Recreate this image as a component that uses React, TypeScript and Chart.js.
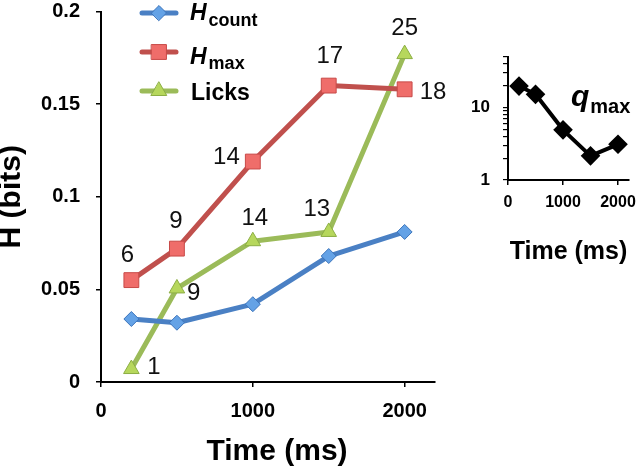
import React, { useEffect, useRef } from 'react';
import { Chart, registerables } from 'chart.js';
import { drawPoint } from 'chart.js/helpers';

Chart.register(...registerables);

const FONT = "'Liberation Sans', Arial, Helvetica, sans-serif";

// ---- data ----
const times = [200, 500, 1000, 1500, 2000];
const hCount = [0.034, 0.032, 0.042, 0.068, 0.081];
const hMax = [0.055, 0.072, 0.119, 0.16, 0.158];
const licks = [0.007, 0.0505, 0.076, 0.081, 0.177];
const hMaxCounts = ['6', '9', '14', '17', '18'];
const licksCounts = ['1', '9', '14', '13', '25'];
const qMax = [19.6, 15.1, 4.9, 2.15, 3.1];

const mainYTicks = [0, 0.05, 0.1, 0.15, 0.2];
const mainYTickLabels = ['0', '0.05', '0.1', '0.15', '0.2'];
const mainXTicks = [0, 1000, 2000];
const mainXTickLabels = ['0', '1000', '2000'];
const insetXTicks = [0, 1000, 2000];
const insetXTickLabels = ['0', '1000', '2000'];
const insetYTicks = [1, 2, 3, 4, 5, 6, 7, 8, 9, 10, 20, 30, 40, 50];
const insetYTickLabels = ['1', '', '', '', '', '', '', '', '', '10', '', '', '', ''];

// ---- styles ----
const hMaxLabelPos: [number, number, CanvasTextAlign][] = [
  [-4, -25, 'center'], [-1, -27, 'center'], [-13, -4, 'right'], [1, -29, 'center'], [15, 3, 'left'],
];
const licksLabelPos: [number, number, CanvasTextAlign][] = [
  [16, -2, 'left'], [10, 5, 'left'], [2, -23, 'center'], [-12, -23, 'center'], [0, -26, 'center'],
];

const labelFor = (ticks: number[], labels: string[], v: number) => {
  const i = ticks.findIndex((t) => Math.abs(t - v) < 1e-9);
  return i < 0 ? '' : labels[i];
};

const setTicks = (values: number[]) => (s: any) => {
  s.ticks = values.map((v) => ({ value: v, major: false }));
};

const noPad = (w: number | null, h: number | null) => (s: any) => {
  if (w !== null) s.width = w;
  if (h !== null) s.height = h;
  s.paddingTop = 0;
  s.paddingBottom = 0;
  s.paddingLeft = 0;
  s.paddingRight = 0;
};

const dataLabelPlugin = {
  id: 'dataLabels',
  afterDatasetsDraw(chart: any) {
    const ctx = chart.ctx;
    const sets: [number, string[], [number, number, CanvasTextAlign][]][] = [
      [1, hMaxCounts, hMaxLabelPos],
      [2, licksCounts, licksLabelPos],
    ];
    ctx.save();
    ctx.fillStyle = '#111';
    ctx.font = `24px ${FONT}`;
    ctx.textBaseline = 'middle';
    sets.forEach(([di, labels, pos]) => {
      const meta = chart.getDatasetMeta(di);
      meta.data.forEach((el: any, i: number) => {
        const [dx, dy, align] = pos[i];
        ctx.textAlign = align;
        ctx.fillText(labels[i], el.x + dx, el.y + dy);
      });
    });
    ctx.restore();
  },
};

const legendPlugin = {
  id: 'customLegend',
  afterDraw(chart: any) {
    const ctx = chart.ctx;
    const rows = [13, 52, 91];
    chart.data.datasets.forEach((ds: any, i: number) => {
      const y = rows[i];
      ctx.save();
      ctx.strokeStyle = ds.borderColor;
      ctx.lineWidth = 5;
      ctx.lineCap = 'round';
      ctx.beginPath();
      ctx.moveTo(142, y);
      ctx.lineTo(176, y);
      ctx.stroke();
      ctx.fillStyle = ds.pointBackgroundColor;
      ctx.strokeStyle = ds.pointBorderColor;
      ctx.lineWidth = 1;
      drawPoint(ctx, { pointStyle: ds.pointStyle, radius: ds.pointRadius, rotation: 0, borderWidth: 1 } as any, 159, y);
      ctx.restore();
    });
    ctx.save();
    ctx.fillStyle = '#000';
    ctx.textAlign = 'left';
    ctx.textBaseline = 'alphabetic';
    const subs = [
      ['H', 'count', 20, 26],
      ['H', 'max', 64, 69],
    ] as [string, string, number, number][];
    subs.forEach(([main, sub, b1, b2]) => {
      ctx.font = `italic bold 23px ${FONT}`;
      ctx.fillText(main, 190, b1);
      const w = ctx.measureText(main).width;
      ctx.font = `bold 18px ${FONT}`;
      ctx.fillText(sub, 190 + w + 2, b2);
    });
    ctx.font = `bold 23px ${FONT}`;
    ctx.fillText('Licks', 191, 100);
    ctx.restore();
  },
};

const mainXTitlePlugin = {
  id: 'mainXTitle',
  afterDraw(chart: any) {
    const ctx = chart.ctx;
    const a = chart.chartArea;
    ctx.save();
    ctx.fillStyle = '#000';
    ctx.textAlign = 'center';
    ctx.textBaseline = 'middle';
    ctx.font = `bold 30px ${FONT}`;
    ctx.fillText('Time (ms)', (a.left + a.right) / 2 + 9, a.bottom + 70);
    ctx.restore();
  },
};

const qLabelPlugin = {
  id: 'qLabel',
  afterDraw(chart: any) {
    const ctx = chart.ctx;
    ctx.save();
    ctx.fillStyle = '#000';
    ctx.textAlign = 'left';
    ctx.textBaseline = 'alphabetic';
    ctx.font = `italic bold 30px ${FONT}`;
    ctx.fillText('q', 131, 106);
    const w = ctx.measureText('q').width;
    ctx.font = `bold 20px ${FONT}`;
    ctx.fillText('max', 131 + w + 1, 113);
    ctx.restore();
  },
};

function MainChart() {
  const ref = useRef<HTMLCanvasElement>(null);
  useEffect(() => {
    const mk = (label: string, data: number[], line: string, fill: string, edge: string, style: string, r: number) => ({
      label,
      data: times.map((t, i) => ({ x: t, y: data[i] })),
      borderColor: line,
      borderWidth: 5,
      borderCapStyle: 'round',
      borderJoinStyle: 'round',
      pointStyle: style,
      pointRadius: r,
      pointHoverRadius: r,
      pointBackgroundColor: fill,
      pointBorderColor: edge,
      pointBorderWidth: 1,
      tension: 0,
      clip: false,
    });
    const chart = new Chart(ref.current!, {
      type: 'line',
      data: {
        datasets: [
          mk('Hcount', hCount, '#4a80c4', '#64a2e6', '#3c74bb', 'rectRot', 7.5),
          mk('Hmax', hMax, '#c0504d', '#ef6d6a', '#c84a48', 'rect', 10.5),
          mk('Licks', licks, '#9bbb59', '#b6d75c', '#8cae44', 'triangle', 9),
        ] as any,
      },
      options: {
        responsive: false,
        animation: false,
        events: [],
        layout: { padding: { left: 0, right: 25, top: 11, bottom: 0 } },
        plugins: { legend: { display: false }, tooltip: { enabled: false } },
        scales: {
          x: {
            type: 'linear',
            min: 0,
            max: 2200,
            afterBuildTicks: setTicks(mainXTicks),
            afterFit: noPad(null, 88),
            border: { display: true, color: '#000', width: 2 },
            grid: { drawOnChartArea: false, drawTicks: true, tickLength: 5, color: '#000', lineWidth: 1.5 },
            ticks: {
              autoSkip: false,
              maxRotation: 0,
              padding: 14,
              color: '#000',
              font: { family: FONT, size: 20, weight: 'bold', lineHeight: 1 },
              callback: (v: any) => labelFor(mainXTicks, mainXTickLabels, Number(v)),
            },
          },
          y: {
            type: 'linear',
            min: 0,
            max: 0.2,
            afterBuildTicks: setTicks(mainYTicks),
            afterFit: noPad(101, null),
            border: { display: true, color: '#000', width: 2 },
            grid: { drawOnChartArea: false, drawTicks: true, tickLength: 5, color: '#000', lineWidth: 1.5 },
            ticks: {
              autoSkip: false,
              padding: 16,
              color: '#000',
              font: { family: FONT, size: 20, weight: 'bold', lineHeight: 1 },
              callback: (v: any) => labelFor(mainYTicks, mainYTickLabels, Number(v)),
            },
            title: {
              display: true,
              text: 'H (bits)',
              color: '#000',
              padding: 0,
              font: { family: FONT, size: 30, weight: 'bold', lineHeight: 0.75 },
            },
          },
        },
      } as any,
      plugins: [dataLabelPlugin, legendPlugin, mainXTitlePlugin],
    });
    return () => chart.destroy();
  }, []);
  return <canvas ref={ref} width={460} height={470} style={{ position: 'absolute', left: 0, top: 0 }} />;
}

function InsetChart() {
  const ref = useRef<HTMLCanvasElement>(null);
  useEffect(() => {
    const chart = new Chart(ref.current!, {
      type: 'line',
      data: {
        datasets: [
          {
            label: 'qmax',
            data: times.map((t, i) => ({ x: t, y: qMax[i] })),
            borderColor: '#000',
            borderWidth: 4,
            borderJoinStyle: 'round',
            pointStyle: 'rectRot',
            pointRadius: 7,
            pointHoverRadius: 7,
            pointBackgroundColor: '#000',
            pointBorderColor: '#000',
            tension: 0,
            clip: false,
          },
        ] as any,
      },
      options: {
        responsive: false,
        animation: false,
        events: [],
        layout: { padding: { left: 0, right: 10, top: 56.5, bottom: 0 } },
        plugins: { legend: { display: false }, tooltip: { enabled: false } },
        scales: {
          x: {
            type: 'linear',
            min: 0,
            max: 2200,
            afterBuildTicks: setTicks(insetXTicks),
            afterFit: noPad(null, 100),
            border: { display: true, color: '#000', width: 2 },
            grid: { drawOnChartArea: false, drawTicks: true, tickLength: 5, color: '#000', lineWidth: 1.5 },
            ticks: {
              maxRotation: 0,
              autoSkip: false,
              padding: 10,
              color: '#000',
              font: { family: FONT, size: 16, weight: 'bold', lineHeight: 1 },
              callback: (v: any) => labelFor(insetXTicks, insetXTickLabels, Number(v)),
            },
            title: {
              display: true,
              text: 'Time (ms)',
              color: '#000',
              padding: { top: 0, bottom: 12.5 },
              font: { family: FONT, size: 25, weight: 'bold', lineHeight: 1.2 },
            },
          },
          y: {
            type: 'logarithmic',
            min: 1,
            max: 50,
            afterBuildTicks: setTicks(insetYTicks),
            afterFit: noPad(68, null),
            border: { display: true, color: '#000', width: 2 },
            grid: { drawOnChartArea: false, drawTicks: true, tickLength: 5, color: '#000', lineWidth: 1.2 },
            ticks: {
              autoSkip: false,
              padding: 13,
              color: '#000',
              font: { family: FONT, size: 17, weight: 'bold', lineHeight: 1 },
              callback: (v: any) => labelFor(insetYTicks, insetYTickLabels, Number(v)),
            },
          },
        },
      } as any,
      plugins: [qLabelPlugin],
    });
    return () => chart.destroy();
  }, []);
  return <canvas ref={ref} width={200} height={280} style={{ position: 'absolute', left: 440, top: 0 }} />;
}

export default function App() {
  return (
    <div style={{ position: 'fixed', left: 0, top: 0, width: 640, height: 470, background: '#fff', overflow: 'hidden' }}>
      <MainChart />
      <InsetChart />
    </div>
  );
}
